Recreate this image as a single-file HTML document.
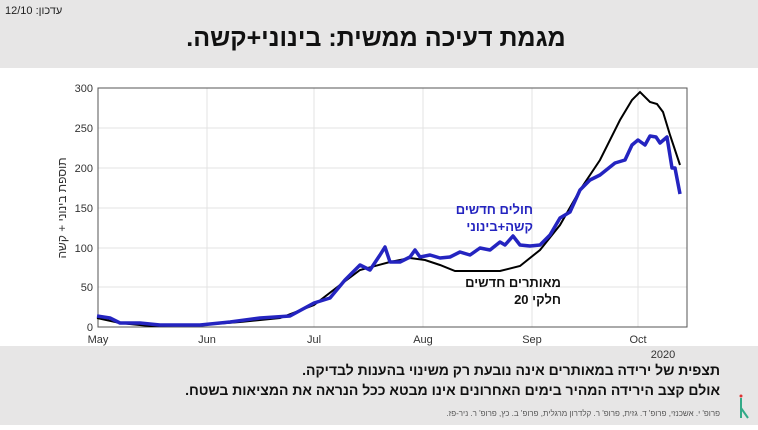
<!DOCTYPE html>
<html><head><meta charset="utf-8"><style>
body{margin:0;width:758px;height:425px;overflow:hidden;background:#fff;font-family:"Liberation Sans","Noto Sans CJK JP",sans-serif}
</style></head><body>
<svg width="758" height="425" xmlns="http://www.w3.org/2000/svg" font-family="Liberation Sans, Noto Sans CJK JP, sans-serif">
<rect x="0" y="0" width="758" height="68" fill="#e7e6e6"/>
<rect x="0" y="346" width="758" height="79" fill="#e7e6e6"/>
<text x="5" y="14" font-size="11" fill="#222">12/10 :עדכון</text>
<text x="376" y="46" font-size="25" font-weight="bold" text-anchor="middle" fill="#111" direction="rtl">מגמת דעיכה ממשית: בינוני+קשה.</text>
<g stroke="#e3e3e3" stroke-width="1">
<line x1="98" y1="128" x2="687" y2="128"/><line x1="98" y1="168" x2="687" y2="168"/>
<line x1="98" y1="208" x2="687" y2="208"/><line x1="98" y1="248" x2="687" y2="248"/>
<line x1="98" y1="287" x2="687" y2="287"/>
<line x1="207" y1="88" x2="207" y2="327"/><line x1="314" y1="88" x2="314" y2="327"/>
<line x1="423" y1="88" x2="423" y2="327"/><line x1="532" y1="88" x2="532" y2="327"/>
<line x1="638" y1="88" x2="638" y2="327"/>
</g>
<rect x="98" y="88" width="589" height="239" fill="none" stroke="#555" stroke-width="1"/>
<g font-size="11" fill="#333" text-anchor="end">
<text x="93" y="92">300</text><text x="93" y="132">250</text><text x="93" y="172">200</text>
<text x="93" y="212">150</text><text x="93" y="252">100</text><text x="93" y="291">50</text><text x="93" y="331">0</text>
</g>
<g font-size="11" fill="#333" text-anchor="middle">
<text x="98" y="343">May</text><text x="207" y="343">Jun</text><text x="314" y="343">Jul</text>
<text x="423" y="343">Aug</text><text x="532" y="343">Sep</text><text x="638" y="343">Oct</text>
<text x="663" y="358">2020</text>
</g>
<text transform="translate(66,208) rotate(-90)" font-size="12" fill="#333" text-anchor="middle" direction="rtl">תוספת בינוני + קשה</text>
<polyline fill="none" stroke="#000" stroke-width="2" points="97,318 120,323 150,326 200,325 240,322 280,318 314,305 340,285 360,270 390,262 410,258 425,260 440,265 455,271 480,271 500,271 520,266 540,250 560,225 580,190 600,160 620,120 632,100 640,92 650,102 657,104 663,112 670,135 680,165"/>
<polyline fill="none" stroke="#2424c0" stroke-width="3.5" stroke-linejoin="round" points="97,316 110,318 120,323 140,323 160,325 200,325 230,322 260,318 290,316 314,303 330,298 345,280 360,265 370,270 380,255 385,247 390,262 400,262 410,257 415,250 420,257 430,255 440,258 450,257 460,252 470,255 480,248 490,250 500,242 505,245 513,236 520,245 530,246 540,245 550,235 560,218 570,212 580,190 585,185 590,180 600,175 615,163 625,160 632,145 638,140 645,145 650,136 656,137 660,143 667,137 672,168 675,168 680,194"/>
<g font-size="13" font-weight="bold" text-anchor="start" direction="rtl">
<text x="533" y="214" fill="#2424c0">חולים חדשים</text>
<text x="533" y="231" fill="#2424c0">קשה+בינוני</text>
<text x="561" y="287" fill="#111">מאותרים חדשים</text>
<text x="561" y="304" fill="#111">חלקי 20</text>
</g>
<g font-size="14" font-weight="bold" fill="#111" text-anchor="start" direction="rtl">
<text x="720" y="375">תצפית של ירידה במאותרים אינה נובעת רק משינוי בהענות לבדיקה.</text>
<text x="720" y="395">אולם קצב הירידה המהיר בימים האחרונים אינו מבטא ככל הנראה את המציאות בשטח.</text>
</g>
<text x="720" y="416" font-size="8" fill="#555" text-anchor="start" direction="rtl">פרופ' י. אשכנזי, פרופ' ד. גזית, פרופ' ר. קלדרון מרגלית, פרופ' ב. כץ, פרופ' ר. ניר-פז.</text>
<line x1="741" y1="398" x2="741" y2="418" stroke="#3a8" stroke-width="2"/>
<line x1="741" y1="408" x2="748" y2="418" stroke="#3a8" stroke-width="2"/>
<circle cx="741" cy="396" r="1.5" fill="#d33"/>
</svg>
</body></html>
